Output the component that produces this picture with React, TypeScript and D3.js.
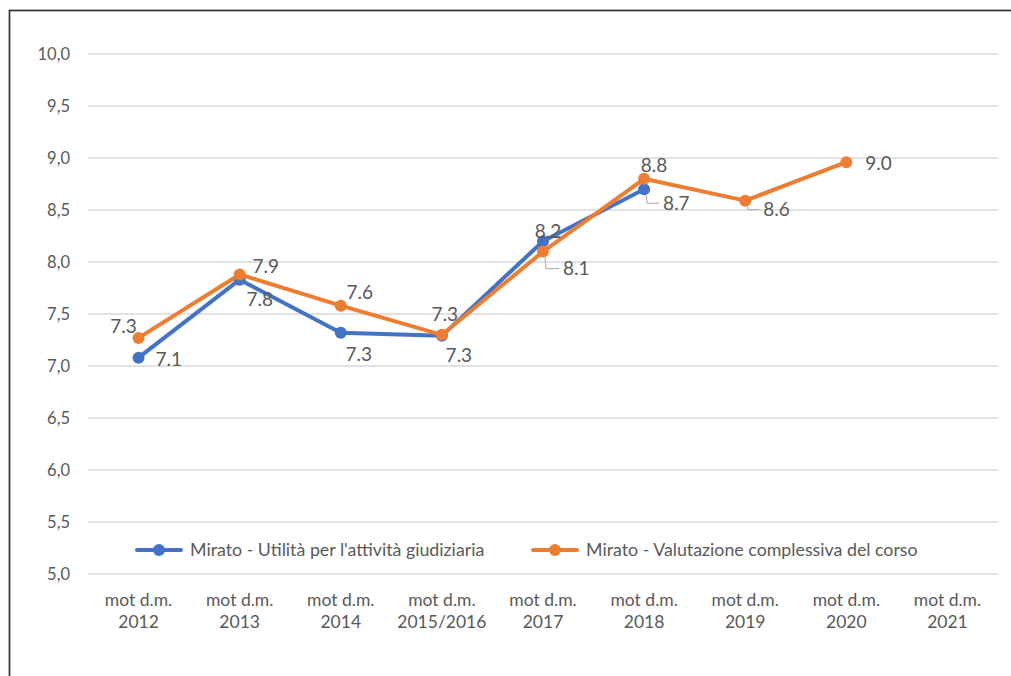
import React from 'react';
import * as d3 from 'd3';

const categories = ['2012', '2013', '2014', '2015/2016', '2017', '2018', '2019', '2020', '2021'];
const utilitaValues: (number | null)[] = [7.08, 7.83, 7.32, 7.29, 8.2, 8.7, null, null, null];
const valutazioneValues: (number | null)[] = [7.27, 7.88, 7.58, 7.3, 8.1, 8.8, 8.59, 8.96, null];
const yTicks = [5.0, 5.5, 6.0, 6.5, 7.0, 7.5, 8.0, 8.5, 9.0, 9.5, 10.0];
const seriesNames = ['Mirato - Utilità per l\'attività giudiziaria', 'Mirato - Valutazione complessiva del corso'];

// label placement (Excel-style manual positions), relative to the point
type LabelPos = { dx: number; dy: number; anchor: string; leader?: boolean } | null;
const utilitaLabels: LabelPos[] = [
  { dx: 17, dy: 2, anchor: 'start' },
  { dx: 20, dy: 20, anchor: 'middle' },
  { dx: 18, dy: 22, anchor: 'middle' },
  { dx: 17, dy: 20, anchor: 'middle' },
  { dx: 5, dy: -10, anchor: 'middle' },
  { dx: 19, dy: 14, anchor: 'start', leader: true },
  null, null, null,
];
const valutazioneLabels: LabelPos[] = [
  { dx: -15, dy: -12, anchor: 'middle' },
  { dx: 26, dy: -8, anchor: 'middle' },
  { dx: 19, dy: -13, anchor: 'middle' },
  { dx: 3, dy: -20, anchor: 'middle' },
  { dx: 20, dy: 17, anchor: 'start', leader: true },
  { dx: 10, dy: -13, anchor: 'middle' },
  { dx: 18, dy: 9, anchor: 'start', leader: true },
  { dx: 19, dy: 1, anchor: 'start' },
  null,
];

const BLUE = '#4472C4';
const ORANGE = '#ED7D31';
const TEXT = '#595959';
const FONT = 'Lato, "Open Sans", sans-serif';

export default function App() {
  const width = 1011;
  const height = 676;
  const margin = { left: 88, right: 13, top: 54, bottom: 102 };

  const x = d3.scaleBand().domain(categories).range([margin.left, width - margin.right]);
  const y = d3.scaleLinear().domain([5, 10]).range([height - margin.bottom, margin.top]);
  const cx = (c: string) => (x(c) || 0) + x.bandwidth() / 2;

  const line = d3.line<[string, number | null]>()
    .defined(d => d[1] != null)
    .x(d => cx(d[0]))
    .y(d => y(d[1] as number));

  const series = [
    { name: seriesNames[0], values: utilitaValues, color: BLUE, labels: utilitaLabels },
    { name: seriesNames[1], values: valutazioneValues, color: ORANGE, labels: valutazioneLabels },
  ];

  return (
    <svg width={width} height={height} style={{ position: 'absolute', left: 0, top: 0, background: '#fff' }} fontFamily={FONT}>
      <rect x={9.5} y={10.5} width={1020} height={700} fill="none" stroke="#e0e0e0" strokeWidth={3} />
      <rect x={9.5} y={10.5} width={1020} height={700} fill="none" stroke="#333" strokeWidth={1.5} />

      {yTicks.map(t => (
        <g key={t}>
          <line x1={margin.left} x2={width - margin.right} y1={y(t)} y2={y(t)} stroke="#D9D9D9" strokeWidth={1.5} />
          <text x={70} y={y(t)} dy="0.35em" textAnchor="end" fontSize={16.5} fill={TEXT}>
            {d3.format('.1f')(t).replace('.', ',')}
          </text>
        </g>
      ))}

      {categories.map(c => (
        <text key={c} x={cx(c)} textAnchor="middle" fontSize={17.5} fill={TEXT}>
          <tspan x={cx(c)} y={606}>mot d.m.</tspan>
          <tspan x={cx(c)} y={628}>{c}</tspan>
        </text>
      ))}

      {series.map(s => {
        const pts = categories.map((c, i) => [c, s.values[i]] as [string, number | null]);
        return (
          <g key={s.name}>
            <path d={line(pts) || ''} fill="none" stroke={s.color} strokeWidth={4} strokeLinejoin="round" />
            {pts.filter(p => p[1] != null).map(p => (
              <circle key={p[0]} cx={cx(p[0])} cy={y(p[1] as number)} r={6} fill={s.color} />
            ))}
          </g>
        );
      })}

      {series.map(s => (
        <g key={s.name + '-labels'}>
          {categories.map((c, i) => {
            const v = s.values[i];
            const lp = s.labels[i];
            if (v == null || !lp) return null;
            const px = cx(c);
            const py = y(v);
            return (
              <g key={c}>
                {lp.leader && (
                  <polyline
                    points={`${px + 2},${py + 6} ${px + 3},${py + lp.dy} ${px + lp.dx - 4},${py + lp.dy}`}
                    fill="none" stroke="#A6A6A6" strokeWidth={1} />
                )}
                <text x={px + lp.dx} y={py + lp.dy} dy="0.35em" textAnchor={lp.anchor} fontSize={19} fill={TEXT}>
                  {d3.format('.1f')(v)}
                </text>
              </g>
            );
          })}
        </g>
      ))}

      {series.map((s, i) => {
        const lx = i === 0 ? 137 : 533;
        const ly = 550;
        return (
          <g key={s.name + '-legend'}>
            <line x1={lx} x2={lx + 44} y1={ly} y2={ly} stroke={s.color} strokeWidth={4} strokeLinecap="round" />
            <circle cx={lx + 22} cy={ly} r={6} fill={s.color} />
            <text x={lx + 53} y={ly} dy="0.35em" fontSize={17.8} fill={TEXT}>{s.name}</text>
          </g>
        );
      })}
    </svg>
  );
}
